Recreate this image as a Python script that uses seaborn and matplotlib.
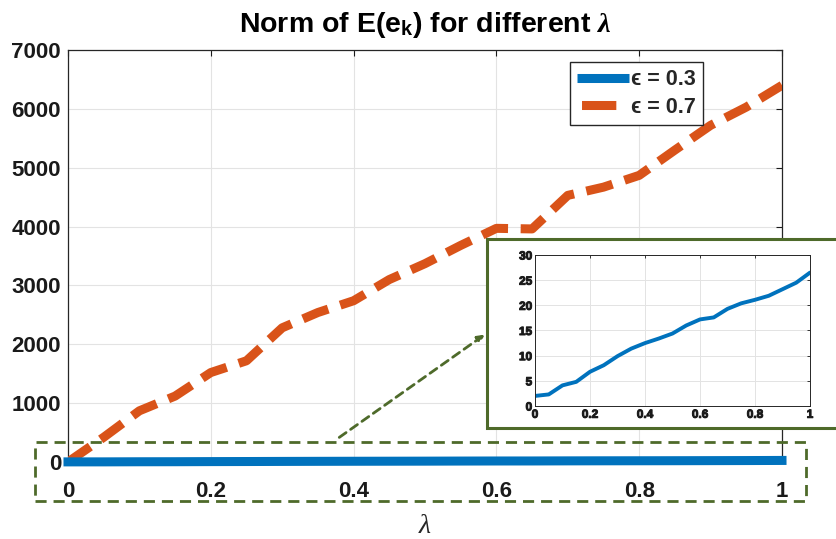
import numpy as np
import pandas as pd
import matplotlib
matplotlib.use("Agg")
import matplotlib.pyplot as plt
import matplotlib.patheffects as pe
import seaborn as sns
from matplotlib.patches import Rectangle, FancyArrowPatch
from matplotlib.lines import Line2D

# --- DATA ---
lam = [0.0, 0.05, 0.1, 0.15, 0.2, 0.25, 0.3, 0.35, 0.4, 0.45, 0.5,
       0.55, 0.6, 0.65, 0.7, 0.75, 0.8, 0.85, 0.9, 0.95, 1.0]
norm_eps03 = [2.0, 2.3, 4.1, 4.8, 6.8, 8.1, 9.9, 11.4, 12.5, 13.4, 14.4,
              16.0, 17.2, 17.6, 19.3, 20.4, 21.1, 21.9, 23.2, 24.5, 26.5]
norm_eps07 = [0, 420, 870, 1120, 1520, 1720, 2280, 2540, 2740, 3100, 3370,
              3680, 3970, 3960, 4530, 4670, 4870, 5300, 5720, 6030, 6400]
labels = ["ϵ = 0.3", "ϵ = 0.7"]
xticks = [0, 0.2, 0.4, 0.6, 0.8, 1]
xticklabels = ["0", "0.2", "0.4", "0.6", "0.8", "1"]
yticks = [0, 1000, 2000, 3000, 4000, 5000, 6000, 7000]
inset_yticks = [0, 5, 10, 15, 20, 25, 30]

BLUE = "#0072BD"
ORANGE = "#D95319"
GREEN = "#4E6A2A"

df = pd.DataFrame({"lam": lam, "e03": norm_eps03, "e07": norm_eps07})

sns.set_style("whitegrid")
plt.rcParams["font.family"] = ["Liberation Sans", "DejaVu Sans"]
plt.rcParams["font.weight"] = "bold"
plt.rcParams["mathtext.fontset"] = "custom"
plt.rcParams["mathtext.rm"] = "Liberation Sans:bold"
plt.rcParams["mathtext.bf"] = "Liberation Sans:bold"
plt.rcParams["mathtext.it"] = "Liberation Serif:italic"

W, H = 836, 539
fig = plt.figure(figsize=(W / 100, H / 100), dpi=100)

def fx(px):
    return px / W

def fy(py):
    return 1 - py / H

# --- MAIN AXES ---
ax = fig.add_axes([fx(68), fy(462), fx(782) - fx(68), fy(50) - fy(462)])
sns.lineplot(data=df, x="lam", y="e03", ax=ax, color=BLUE, linewidth=6.5,
             clip_on=False, zorder=5)
sns.lineplot(data=df, x="lam", y="e07", ax=ax, color=ORANGE, linewidth=6.5,
             zorder=4)
ax.lines[1].set_dashes([3.0, 1.4])
ax.lines[0].set_solid_capstyle("projecting")

ax.set_xlim(0, 1)
ax.set_ylim(0, 7000)
ax.set_xticks(xticks)
ax.set_xticklabels(xticklabels)
ax.set_yticks(yticks)
ax.tick_params(direction="in", length=4, width=0.8, top=True, right=True,
               labelsize=16, colors="#1a1a1a", pad=5)
ax.tick_params(axis="x", pad=14)
ax.grid(True, color="#e3e3e3", linewidth=0.8)
for s in ax.spines.values():
    s.set_color("#262626")
    s.set_linewidth(0.9)
ax.set_xlabel("λ", fontsize=20, fontweight="normal", family="Liberation Serif",
              style="italic", labelpad=8)
ax.set_ylabel("")
ax.set_title("Norm of E(e$_\\mathbf{k}$) for different $\\lambda$",
             fontsize=20.5, fontweight="bold", color="black", pad=13)

# legend handles styled like the MATLAB legend (one orange dash)
h03 = Line2D([], [], color=BLUE, linewidth=6.5, solid_capstyle="butt")
h07 = Line2D([], [], color=ORANGE, linewidth=6.5,
             linestyle=(23.3, (3.8, 20.0)), dash_capstyle="butt")
leg = ax.legend(handles=[h03, h07], labels=labels, loc="upper left",
                bbox_to_anchor=(fx(570), fy(62)),
                bbox_transform=fig.transFigure, borderaxespad=0,
                fancybox=False, framealpha=1, edgecolor="#262626",
                fontsize=15.5, handlelength=2.4, borderpad=0.33,
                labelspacing=0.3, handletextpad=0.1)
leg.get_frame().set_linewidth(1.0)
for t in leg.get_texts():
    t.set_fontweight("bold")
    t.set_family(["Liberation Sans", "DejaVu Sans"])

# --- ZOOM BOX AND ARROW ---
fig.patches.append(Rectangle((fx(35), fy(501)), fx(806) - fx(35), fy(442) - fy(501),
                             transform=fig.transFigure, fill=False,
                             edgecolor=GREEN, linewidth=2.0, linestyle=(0, (4, 2.5)),
                             zorder=10))
fig.patches.append(Rectangle((fx(487), fy(428)), fx(850) - fx(487), fy(239) - fy(428),
                             transform=fig.transFigure, facecolor="white",
                             edgecolor=GREEN, linewidth=2.2, zorder=10, clip_on=False))
fig.patches.append(FancyArrowPatch((fx(337), fy(439)), (fx(487), fy(333)),
                                   transform=fig.transFigure, arrowstyle="-|>",
                                   mutation_scale=10, color=GREEN, linewidth=2.0,
                                   linestyle=(0, (3, 2)), zorder=10))

# --- INSET ---
axin = fig.add_axes([fx(535), fy(406), fx(810) - fx(535), fy(255) - fy(406)],
                    zorder=11)
sns.lineplot(data=df, x="lam", y="e03", ax=axin, color=BLUE, linewidth=2.8)
axin.set_xlim(0, 1)
axin.set_ylim(0, 30)
axin.set_xticks(xticks)
axin.set_xticklabels(xticklabels, fontweight="bold")
axin.set_yticks(inset_yticks)
axin.set_yticklabels([str(v) for v in inset_yticks], fontweight="bold")
axin.tick_params(direction="in", length=2.5, width=0.6, top=True, right=True,
                 labelsize=8.5, colors="#1a1a1a", pad=2)
for t in axin.get_xticklabels() + axin.get_yticklabels():
    t.set_path_effects([pe.withStroke(linewidth=0.7, foreground="#1a1a1a")])
axin.grid(True, color="#e3e3e3", linewidth=0.7)
for s in axin.spines.values():
    s.set_color("#262626")
    s.set_linewidth(0.7)
axin.set_xlabel("")
axin.set_ylabel("")

fig.savefig("out.png", dpi=100)
